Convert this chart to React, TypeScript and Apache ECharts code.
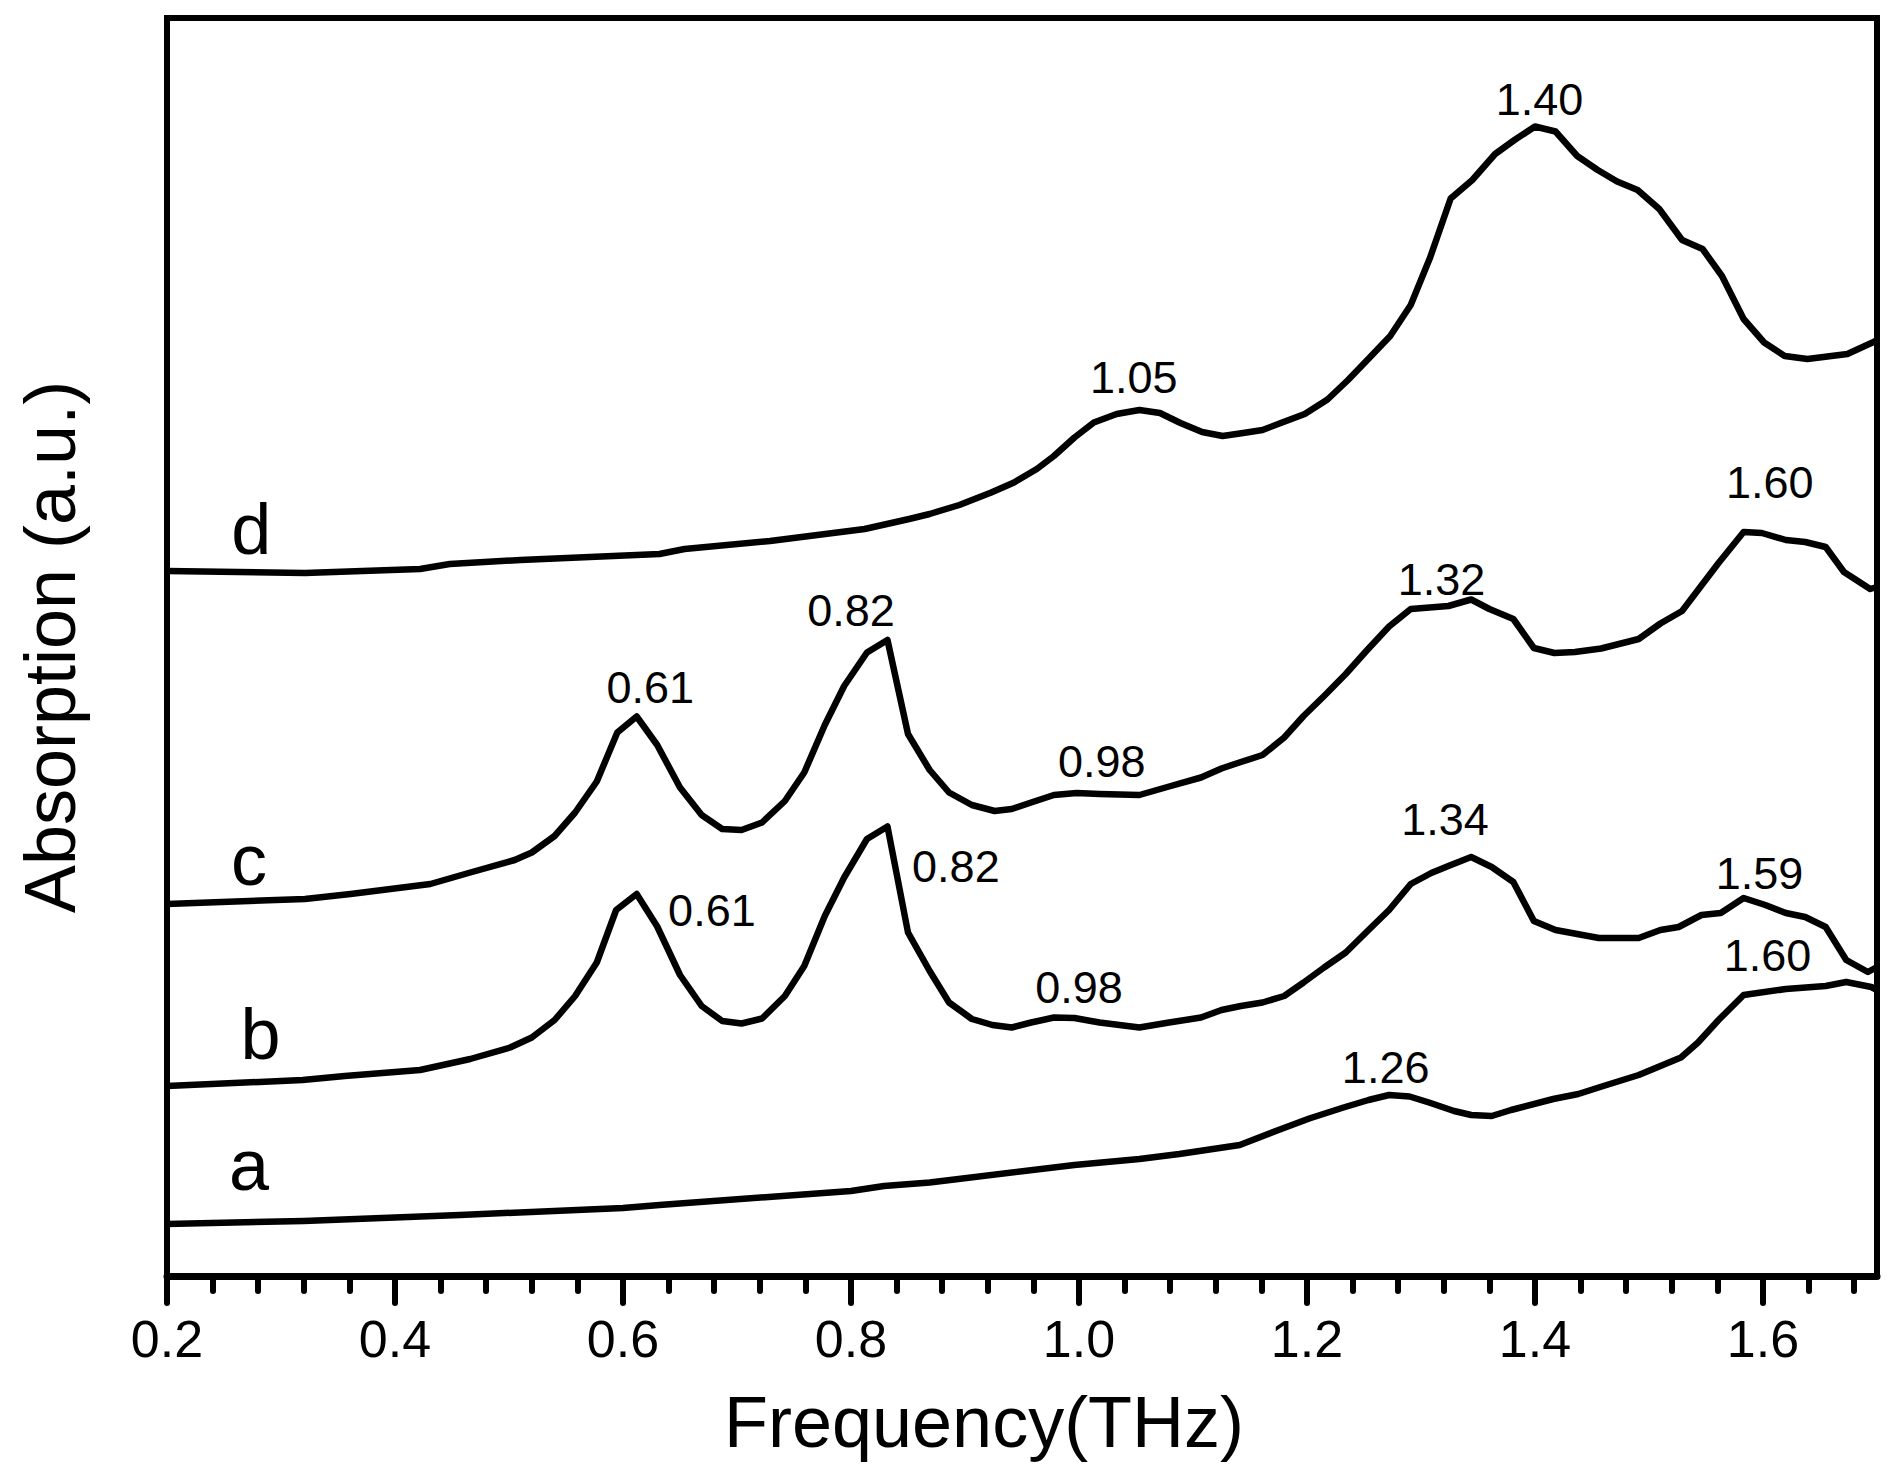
import React, { useEffect, useRef } from "react";
import * as echarts from "echarts";

const FONT = "'Liberation Sans', Arial, Helvetica, sans-serif";

// Frequency tick values (THz)
const xTicks = [0.2, 0.4, 0.6, 0.8, 1.0, 1.2, 1.4, 1.6];

// Curves: [frequency (THz), absorption (a.u., offset stacked)]
const curveA: [number, number][] = [
  [0.2, 5.2], [0.32, 5.5], [0.457, 6.1], [0.6, 6.8], [0.632, 7.1], [0.8, 8.5], [0.829, 9.0],
  [0.869, 9.35], [0.996, 11.1], [1.053, 11.7], [1.088, 12.2], [1.141, 13.1], [1.175, 14.6],
  [1.202, 15.75], [1.232, 16.85], [1.254, 17.6], [1.272, 18.1], [1.29, 17.95], [1.307, 17.35],
  [1.329, 16.5], [1.344, 16.1], [1.362, 16.0], [1.379, 16.6], [1.416, 17.7], [1.438, 18.2],
  [1.46, 19.0], [1.491, 20.1], [1.528, 21.85], [1.543, 23.35], [1.561, 25.6], [1.583, 28.1],
  [1.62, 28.7], [1.655, 29.0], [1.673, 29.4], [1.695, 28.9], [1.7, 28.6],
];

const curveB: [number, number][] = [
  [0.2, 19.0], [0.319, 19.6], [0.356, 20.0], [0.422, 20.6], [0.466, 21.7], [0.501, 22.85],
  [0.52, 23.85], [0.54, 25.6], [0.558, 28.0], [0.577, 31.35], [0.594, 36.6], [0.612, 38.2],
  [0.63, 34.95], [0.65, 30.1], [0.669, 27.0], [0.687, 25.5], [0.704, 25.25], [0.722, 25.75],
  [0.742, 28.0], [0.759, 31.0], [0.777, 36.0], [0.794, 39.85], [0.814, 43.7], [0.832, 44.95],
  [0.85, 34.35], [0.869, 30.5], [0.886, 27.35], [0.906, 25.7], [0.924, 25.1], [0.941, 24.85],
  [0.958, 25.35], [0.978, 25.85], [0.996, 25.8], [1.018, 25.35], [1.053, 24.85], [1.079, 25.35],
  [1.107, 25.85], [1.125, 26.6], [1.142, 27.0], [1.161, 27.35], [1.18, 28.0], [1.197, 29.35],
  [1.215, 30.85], [1.234, 32.35], [1.254, 34.6], [1.272, 36.6], [1.291, 39.2], [1.309, 40.3],
  [1.324, 41.0], [1.344, 41.9], [1.362, 40.9], [1.381, 39.4], [1.399, 35.5], [1.418, 34.6],
  [1.456, 33.8], [1.491, 33.8], [1.51, 34.6], [1.526, 34.9], [1.546, 36.1], [1.563, 36.3],
  [1.583, 37.8], [1.602, 37.1], [1.62, 36.3], [1.637, 35.9], [1.655, 34.9], [1.673, 31.6],
  [1.692, 30.4], [1.7, 30.9],
];

const curveC: [number, number][] = [
  [0.2, 37.2], [0.321, 37.7], [0.361, 38.2], [0.431, 39.2], [0.466, 40.35], [0.505, 41.6],
  [0.52, 42.35], [0.54, 44.0], [0.558, 46.35], [0.577, 49.45], [0.595, 54.35], [0.612, 55.95],
  [0.63, 53.1], [0.65, 48.85], [0.669, 46.1], [0.687, 44.7], [0.704, 44.6], [0.722, 45.35],
  [0.742, 47.5], [0.759, 50.35], [0.777, 55.1], [0.794, 59.0], [0.814, 62.35], [0.832, 63.6],
  [0.85, 54.2], [0.869, 50.6], [0.886, 48.35], [0.906, 47.1], [0.926, 46.5], [0.941, 46.7],
  [0.958, 47.35], [0.978, 48.1], [0.998, 48.3], [1.018, 48.2], [1.053, 48.1], [1.079, 48.95],
  [1.107, 49.85], [1.125, 50.75], [1.142, 51.4], [1.161, 52.1], [1.18, 53.85], [1.197, 56.0],
  [1.215, 58.0], [1.234, 60.2], [1.252, 62.5], [1.272, 64.95], [1.291, 66.7], [1.324, 67.0],
  [1.344, 67.65], [1.36, 66.7], [1.381, 65.7], [1.399, 62.8], [1.417, 62.3], [1.435, 62.4],
  [1.458, 62.75], [1.491, 63.7], [1.51, 65.25], [1.529, 66.5], [1.543, 68.6], [1.561, 71.3],
  [1.583, 74.4], [1.599, 74.3], [1.62, 73.6], [1.637, 73.4], [1.655, 72.9], [1.671, 70.4],
  [1.694, 68.7], [1.7, 68.9],
];

const curveD: [number, number][] = [
  [0.2, 70.5], [0.321, 70.3], [0.422, 70.7], [0.448, 71.2], [0.51, 71.6], [0.632, 72.2],
  [0.654, 72.7], [0.729, 73.5], [0.812, 74.7], [0.851, 75.7], [0.869, 76.2], [0.895, 77.1],
  [0.923, 78.35], [0.943, 79.35], [0.963, 80.7], [0.978, 82.0], [0.996, 83.85], [1.013, 85.35],
  [1.033, 86.2], [1.053, 86.6], [1.071, 86.3], [1.089, 85.3], [1.108, 84.4], [1.126, 84.0],
  [1.144, 84.3], [1.161, 84.6], [1.177, 85.3], [1.198, 86.2], [1.218, 87.65], [1.236, 89.6],
  [1.255, 91.85], [1.273, 94.0], [1.291, 97.1], [1.308, 101.85], [1.326, 107.75], [1.345, 109.6],
  [1.365, 112.2], [1.382, 113.6], [1.4, 114.95], [1.418, 114.45], [1.437, 112.0], [1.455, 110.6],
  [1.472, 109.45], [1.49, 108.6], [1.509, 106.7], [1.529, 103.6], [1.547, 102.7], [1.564, 100.0],
  [1.583, 95.7], [1.601, 93.35], [1.619, 92.0], [1.639, 91.7], [1.674, 92.2], [1.696, 93.35],
  [1.7, 93.6],
];

// Peak annotations: [label, frequency, absorption]
const peakLabels: [string, number, number][] = [
  ["1.05", 1.048, 89.85], ["1.40", 1.404, 117.7],
  ["0.61", 0.624, 58.85], ["0.82", 0.8, 66.6], ["0.98", 1.02, 51.5], ["1.32", 1.318, 69.7], ["1.60", 1.606, 79.35],
  ["0.61", 0.678, 36.6], ["0.82", 0.892, 40.95], ["0.98", 1.0, 28.85], ["1.34", 1.321, 45.7], ["1.59", 1.597, 40.3],
  ["1.26", 1.269, 20.85], ["1.60", 1.604, 32.1],
];

// Curve letters: [letter, frequency, absorption]
const curveLetters: [string, number, number][] = [
  ["d", 0.274, 74.7], ["c", 0.272, 41.6], ["b", 0.282, 24.25], ["a", 0.272, 11.1],
];

const curves: [string, [number, number][]][] = [
  ["a", curveA], ["b", curveB], ["c", curveC], ["d", curveD],
];

function textSeries(name: string, items: [string, number, number][], fontSize: number) {
  return {
    type: "scatter",
    name,
    silent: true,
    symbol: "circle",
    symbolSize: 0,
    itemStyle: { color: "#000", opacity: 1 },
    data: items.map(([t, x, y]) => ({ name: t, value: [x, y] })),
    label: {
      show: true,
      position: "inside",
      formatter: (p: any) => p.name,
      fontSize,
      fontFamily: FONT,
      color: "#000",
      opacity: 1,
      textBorderWidth: 0,
      align: "center",
      verticalAlign: "middle",
    },
    labelLayout: { hideOverlap: false },
    z: 5,
  };
}

export default function App() {
  const ref = useRef<HTMLDivElement>(null);

  useEffect(() => {
    document.body.style.margin = "0";
    if (!ref.current) return;
    const chart = echarts.init(ref.current, undefined, { renderer: "svg" });
    const lineSeries = curves.map(([name, data]) => ({
      type: "line",
      name,
      data,
      showSymbol: false,
      symbol: "none",
      smooth: false,
      lineStyle: { color: "#000", width: 6.5, join: "round" },
      itemStyle: { color: "#000" },
      z: 3,
    }));
    const option: any = {
      animation: false,
      backgroundColor: "#fff",
      grid: {
        left: 167, top: 18, width: 1710, height: 1258,
        show: true, borderColor: "#000", borderWidth: 6, backgroundColor: "transparent",
      },
      xAxis: {
        type: "value",
        min: 0.2,
        max: 1.7,
        interval: 0.2,
        name: "Frequency(THz)",
        nameLocation: "middle",
        nameGap: 110,
        nameTextStyle: { fontSize: 72, fontFamily: FONT, color: "#000", padding: [0, 76, 0, 0] },
        axisLine: { show: true, onZero: false, lineStyle: { color: "#000", width: 7 } },
        axisTick: {
          show: true, inside: false, length: 27, customValues: xTicks,
          lineStyle: { color: "#000", width: 6, cap: "round" },
        },
        minorTick: {
          show: true, splitNumber: 5, length: 15,
          lineStyle: { color: "#000", width: 6, cap: "round" },
        },
        axisLabel: {
          show: true, fontSize: 52, fontFamily: FONT, color: "#000", margin: 37,
          customValues: xTicks,
          formatter: (v: number) => v.toFixed(1),
        },
        splitLine: { show: false },
        minorSplitLine: { show: false },
      },
      yAxis: {
        type: "value",
        min: 0,
        max: 125.8,
        name: "Absorption (a.u.)",
        nameLocation: "middle",
        nameGap: 81,
        nameTextStyle: { fontSize: 72, fontFamily: FONT, color: "#000" },
        axisLine: { show: true, lineStyle: { color: "#000", width: 6 } },
        axisTick: { show: false },
        axisLabel: { show: false },
        splitLine: { show: false },
      },
      series: [
        ...lineSeries,
        textSeries("peaks", peakLabels, 45),
        textSeries("letters", curveLetters, 72),
      ],
    };
    chart.setOption(option);
    return () => chart.dispose();
  }, []);

  return <div ref={ref} style={{ width: 1898, height: 1477, background: "#fff" }} />;
}
